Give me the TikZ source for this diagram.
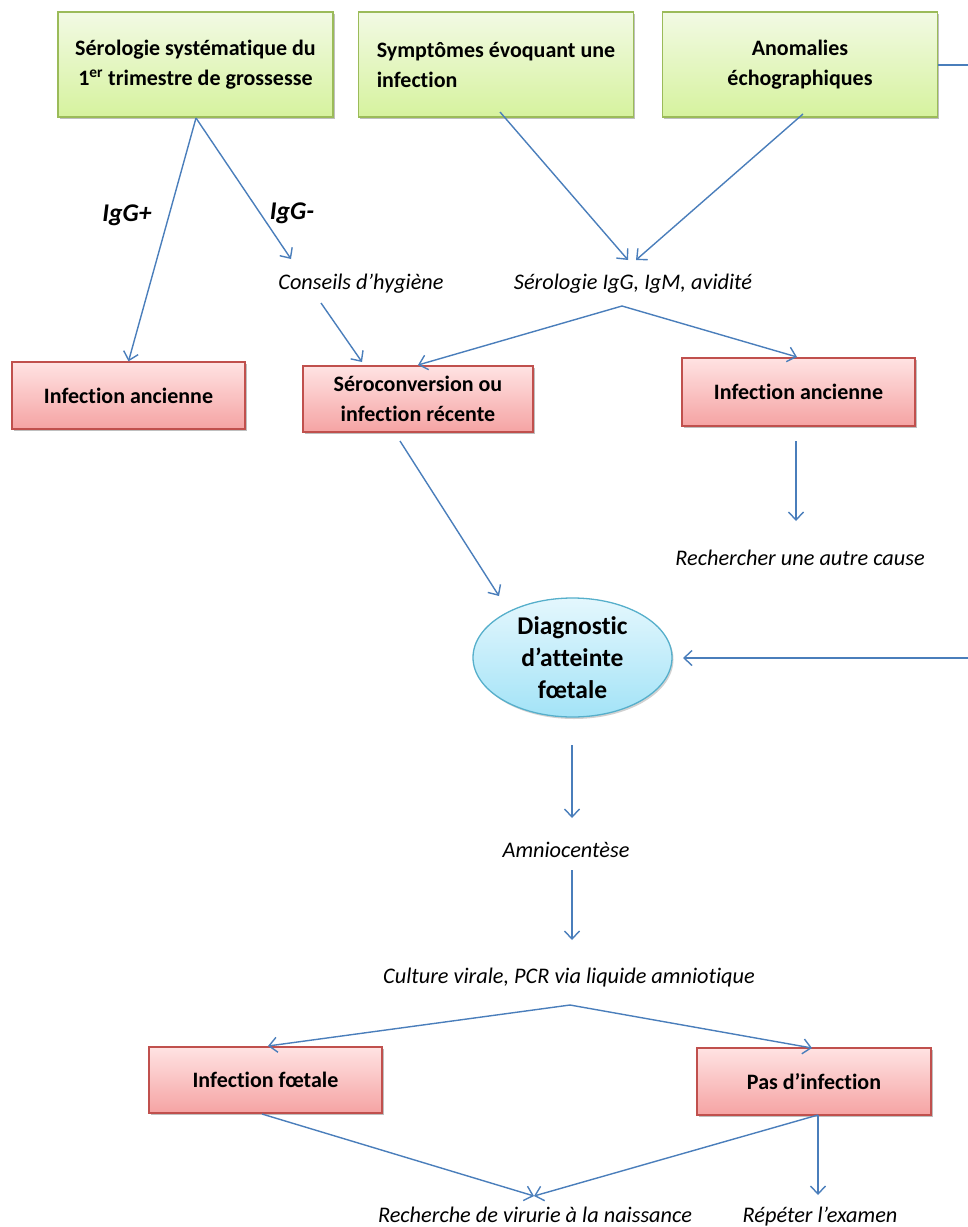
\documentclass[tikz,border=0pt]{standalone}
\usepackage{fontspec}
\setmainfont{Carlito}[Ligatures=NoCommon]
\usetikzlibrary{arrows.meta,shadows,shapes.geometric,calc}

\definecolor{arrowblue}{HTML}{4A7EBB}
\definecolor{greenline}{HTML}{9BBB59}
\definecolor{greentop}{HTML}{F2FAE4}
\definecolor{greenbot}{HTML}{D6F29E}
\definecolor{redline}{HTML}{C0504D}
\definecolor{redtop}{HTML}{FFE3E3}
\definecolor{redbot}{HTML}{F5A3A3}
\definecolor{bluetop}{HTML}{E4F7FD}
\definecolor{bluebot}{HTML}{A3E3F7}
\definecolor{blueline}{HTML}{56AFCB}

\tikzset{
  box/.style={rectangle, line width=1.3pt, align=center, inner sep=0pt,
    font=\fontsize{22}{30}\selectfont\bfseries,
    drop shadow={shadow xshift=1.5pt, shadow yshift=-2pt, opacity=0.25, fill=black}},
  greenbox/.style={box, draw=greenline, top color=greentop, bottom color=greenbot,
    minimum width=275pt, minimum height=105pt},
  redbox/.style={box, draw=redline, top color=redtop, bottom color=redbot,
    minimum width=233pt, minimum height=67pt},
  bluecirc/.style={ellipse, line width=1.3pt, draw=blueline, top color=bluetop, bottom color=bluebot,
    minimum width=199pt, minimum height=119pt, inner sep=0pt, align=center,
    font=\fontsize{25.5}{32}\selectfont\bfseries,
    drop shadow={shadow xshift=1.5pt, shadow yshift=-2pt, opacity=0.18, fill=black}},
  lbl/.style={inner sep=0pt, font=\fontsize{22.3}{26}\selectfont\itshape},
  branch/.style={inner sep=0pt, font=\fontsize{25.5}{30}\selectfont\bfseries\itshape},
  link/.style={draw=arrowblue, line width=1.4pt,
    -{Straight Barb[length=8pt, width=15pt, line width=1.4pt]}},
  plain/.style={draw=arrowblue, line width=1.4pt},
}

\begin{document}
\begin{tikzpicture}[x=1pt, y=-1pt]
\useasboundingbox (0,0) rectangle (968,1227);

% entry points
\node[greenbox] (g1) at (195.5,64.5) {Sérologie systématique du\\1\textsuperscript{er} trimestre de grossesse};
\node[greenbox, align=left] (g2) at (496,64.5) {Symptômes évoquant une\\infection};
\node[greenbox] (g3) at (800,64.5) {Anomalies\\échographiques};

% serology outcomes
\node[branch] (igp) at (127,215) {IgG+};
\node[branch] (igm) at (292,213) {IgG-};
\node[lbl] (hyg) at (361,284) {Conseils d’hygiène};
\node[lbl] (sero) at (633,284) {Sérologie IgG, IgM, avidité};

\node[redbox] (rl) at (128.5,395.5) {Infection ancienne};
\node[redbox, minimum width=230pt, minimum height=66pt] (rm) at (418,399) {Séroconversion ou\\infection récente};
\node[redbox, minimum height=68pt] (rr) at (798.5,392) {Infection ancienne};
\node[lbl] (autre) at (800,558) {Rechercher une autre cause};

% fetal diagnosis
\node[bluecirc] (diag) at (572.5,657.5) {Diagnostic\\d’atteinte\\fœtale};
\node[lbl] (amnio) at (566,850) {Amniocentèse};
\node[lbl] (pcr) at (569,978) {Culture virale, PCR via liquide amniotique};

\node[redbox, minimum height=66pt] (ff) at (265.5,1080) {Infection fœtale};
\node[redbox, minimum width=234pt] (pi) at (814,1081.5) {Pas d’infection};
\node[lbl, anchor=base] (viru) at (535,1222) {Recherche de virurie à la naissance};
\node[lbl, anchor=base] (rep) at (820,1222) {Répéter l’examen};

% connector ends
\coordinate (g1s) at (196,118);
\coordinate (hygTip) at (291,259);
\coordinate (g2s) at (500,112);
\coordinate (g3s) at (803,114);
\coordinate (seroL) at (628,260);
\coordinate (seroR) at (636,260);
\coordinate (hygS) at (321,303);
\coordinate (rmTop) at (362,362);
\coordinate (seroS) at (622,306);
\coordinate (rmTopR) at (418,365);
\coordinate (rrTop) at (797,357);
\coordinate (rrS) at (796,441);
\coordinate (autreTip) at (796,521);
\coordinate (rmS) at (400,441);
\coordinate (diagTip) at (499,596);
\coordinate (g3e) at (938,65);
\coordinate (edgeA) at (980,65);
\coordinate (edgeB) at (980,658);
\coordinate (diagE) at (683,658);
\coordinate (diagS) at (572,745);
\coordinate (amnioTip) at (572,818);
\coordinate (amnioS) at (572,870);
\coordinate (pcrTip) at (572,940);
\coordinate (pcrS) at (570,1005);
\coordinate (ffTop) at (268,1046);
\coordinate (piTop) at (812,1048);
\coordinate (ffS) at (262,1114);
\coordinate (piS) at (818,1115);
\coordinate (viruTip) at (534,1196);
\coordinate (repTip) at (818,1195);

% connectors
\draw[link] (g1s) -- (rl.north);
\draw[link] (g1s) -- (hygTip);
\draw[link] (g2s) -- (seroL);
\draw[link] (g3s) -- (seroR);
\draw[link] (hygS) -- (rmTop);
\draw[link] (seroS) -- (rmTopR);
\draw[link] (seroS) -- (rrTop);
\draw[link] (rrS) -- (autreTip);
\draw[link] (rmS) -- (diagTip);
\draw[plain] (g3e) -- (edgeA) -- (edgeB);
\draw[link] (edgeB) -- (diagE);
\draw[link] (diagS) -- (amnioTip);
\draw[link] (amnioS) -- (pcrTip);
\draw[link] (pcrS) -- (ffTop);
\draw[link] (pcrS) -- (piTop);
\draw[link] (ffS) -- (viruTip);
\draw[link] (piS) -- (viruTip);
\draw[link] (piS) -- (repTip);
\end{tikzpicture}
\end{document}
